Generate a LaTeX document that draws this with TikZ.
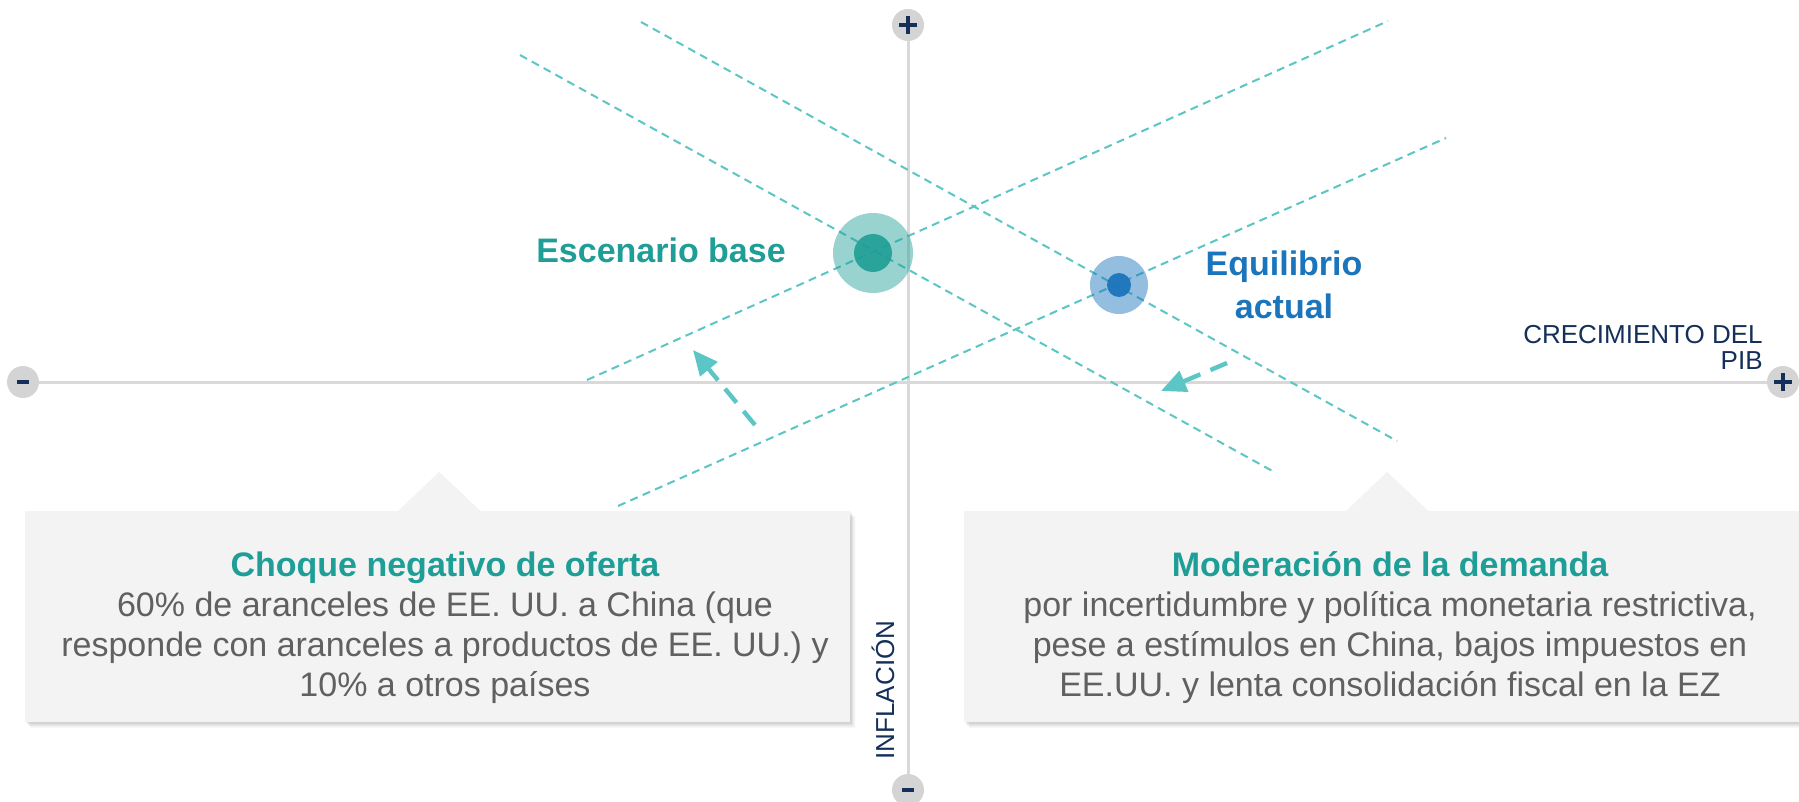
\documentclass[tikz,border=0pt]{standalone}
\usepackage{fontspec}
\setmainfont{Liberation Sans}
\usetikzlibrary{arrows.meta,shadows}
\definecolor{scenteal}{HTML}{1E9E96}
\definecolor{eqblue}{HTML}{1B75BC}
\definecolor{linecyan}{HTML}{5CC6C6}
\definecolor{axisgray}{HTML}{D9D9D9}
\definecolor{signgray}{HTML}{D4D4D4}
\definecolor{navy}{HTML}{14305A}
\definecolor{bodygray}{HTML}{606060}
\definecolor{boxgray}{HTML}{F3F3F3}
\tikzset{
  signdot/.style={circle,fill=signgray,minimum size=16pt,inner sep=0pt},
  signmark/.style={navy,line width=1.8pt},
  shift line/.style={linecyan,line width=1pt,dash pattern=on 4pt off 2.75pt},
  shift arrow/.style={linecyan,line width=2.2pt,dash pattern=on 9pt off 5.5pt,-{Triangle[length=12.5pt,width=11pt]}},
  axislabel/.style={navy,inner sep=0pt,font=\fontsize{13}{13}\selectfont},
  boxtext/.style={bodygray,align=center,inner sep=0pt,font=\fontsize{17}{20}\selectfont},
  soft shadow/.style={
    drop shadow={shadow xshift=.8pt,shadow yshift=-.8pt,opacity=.08,fill=black},
    drop shadow={shadow xshift=1.6pt,shadow yshift=-1.8pt,opacity=.07,fill=black},
    drop shadow={shadow xshift=2.5pt,shadow yshift=-2.8pt,opacity=.05,fill=black}},
}
\def\plusend#1#2#3{
  % 1: name
  % 2: x
  % 3: y
  \node[signdot] (#1) at (#2,#3) {};
  \draw[signmark] (#1.center) +(-4.5pt,0) -- +(4.5pt,0) (#1.center) +(0,-4.5pt) -- +(0,4.5pt);
}
\def\minusend#1#2#3{
  % 1: name
  % 2: x
  % 3: y
  \node[signdot] (#1) at (#2,#3) {};
  \draw[signmark] (#1.center) +(-3pt,0) -- +(3pt,0);
}
\def\callout#1#2#3#4#5{
  % 1: left
  % 2: right
  % 3: x of the tip
  % 4: top
  % 5: bottom
  \fill[boxgray,soft shadow]
    (#1,#4) -- (#3-41,#4) -- (#3,#4-39) -- (#3+41,#4) -- (#2,#4) -- (#2,#5) -- (#1,#5) -- cycle;
}

\begin{document}
\begin{tikzpicture}[x=0.5pt,y=-0.5pt]
    \useasboundingbox[fill=white] (0,0) rectangle (1799,802);

    % ends of the axes
    \coordinate (xmin) at (23,382);
    \coordinate (xmax) at (1783,382);
    \coordinate (ymax) at (908,25);
    \coordinate (ymin) at (908,790);
    \draw[axisgray,line width=1.5pt] (xmin) -- (xmax) (ymax) -- (ymin);

    % supply and demand, before and after
    \coordinate (ofa1) at (618,506);  \coordinate (ofa2) at (1446,138);
    \coordinate (ofn1) at (587,380);  \coordinate (ofn2) at (1388,21);
    \coordinate (dea1) at (641,22);   \coordinate (dea2) at (1397,441);
    \coordinate (den1) at (520,55);   \coordinate (den2) at (1276,473);
    \draw[shift line] (ofa1) -- (ofa2);
    \draw[shift line] (ofn1) -- (ofn2);
    \draw[shift line] (dea1) -- (dea2);
    \draw[shift line] (den1) -- (den2);

    % the two equilibria
    \node[circle,fill=scenteal,opacity=.45,minimum size=40pt,inner sep=0pt] (esc) at (873,253) {};
    \node[circle,fill=scenteal,opacity=.9,minimum size=19pt,inner sep=0pt] (escin) at (esc) {};
    \node[circle,fill=eqblue,opacity=.47,minimum size=29pt,inner sep=0pt] (eq) at (1119,285) {};
    \node[circle,fill=eqblue,opacity=.95,minimum size=12pt,inner sep=0pt] (eqin) at (eq) {};

    \node[scenteal,inner sep=0pt,font=\fontsize{17}{20}\selectfont\bfseries] (esclabel) at (661,250) {Escenario base};
    \node[eqblue,align=center,inner sep=0pt,font=\fontsize{17}{21.5}\selectfont\bfseries] (eqlabel) at (1284,285) {Equilibrio\\actual};

    % shifts
    \coordinate (ofs1) at (755,425);  \coordinate (ofs2) at (693,350);
    \coordinate (des1) at (1227,363); \coordinate (des2) at (1161,391);
    \draw[shift arrow] (ofs1) -- (ofs2);
    \draw[shift arrow] (des1) -- (des2);

    % boxes
    \callout{25}{850}{439}{511}{722}
    \callout{964}{1830}{1387}{511}{722}
    \node[boxtext] (oferta) at (445,628) {{\color{scenteal}\bfseries Choque negativo de oferta}\\
      60\% de aranceles de EE. UU. a China (que\\
      responde con aranceles a productos de EE. UU.) y\\
      10\% a otros países};
    \node[boxtext] (demanda) at (1390,628) {{\color{scenteal}\bfseries Moderación de la demanda}\\
      por incertidumbre y política monetaria restrictiva,\\
      pese a estímulos en China, bajos impuestos en\\
      EE.UU. y lenta consolidación fiscal en la EZ};

    \node[axislabel,align=right,anchor=east] (pib) at (1763,347) {CRECIMIENTO DEL\\PIB};
    \node[axislabel,rotate=90] (infl) at (883,690) {INFLACIÓN};

    \minusend{xlo}{23}{382}
    \plusend{xhi}{1783}{382}
    \plusend{yhi}{908}{25}
    \minusend{ylo}{908}{790}
\end{tikzpicture}
\end{document}
